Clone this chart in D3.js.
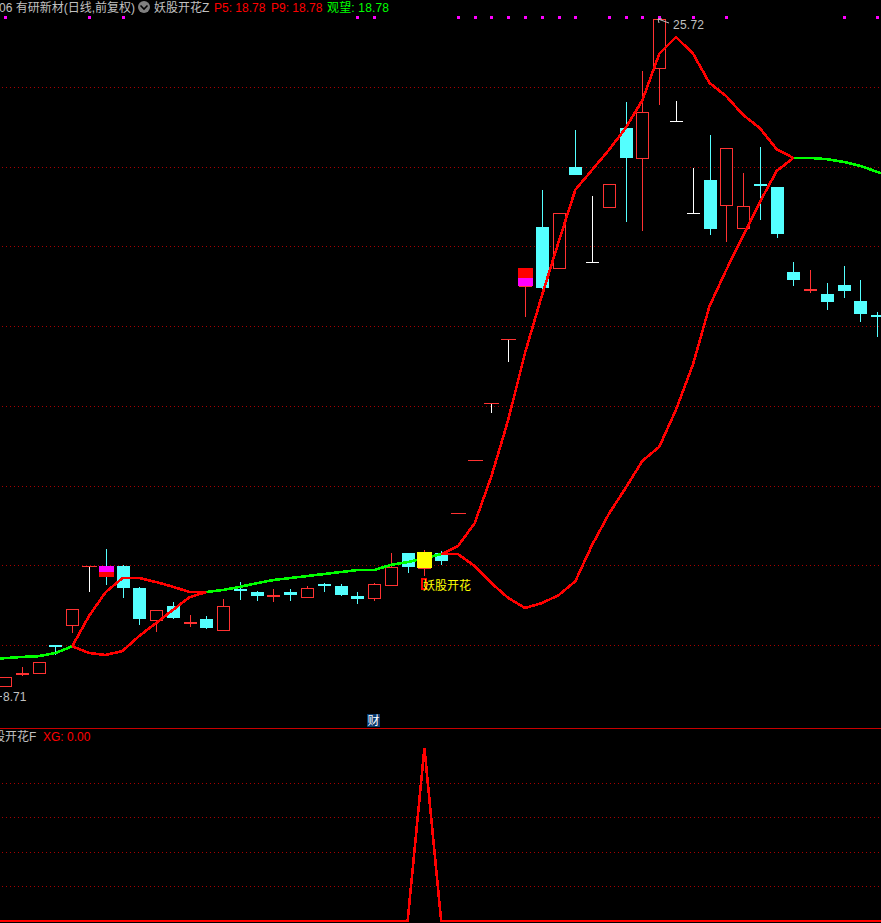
<!DOCTYPE html>
<html><head><meta charset="utf-8">
<style>html,body{margin:0;padding:0;background:#000;overflow:hidden}svg{display:block}text{font-family:"Liberation Sans","Noto Sans CJK SC",sans-serif;font-size:12px}</style>
<script src="https://cdn.jsdelivr.net/npm/d3@7"></script></head><body><svg id="c" width="881" height="923"></svg>
<script>
const opens=[9.00,8.97,9.25,9.30,10.00,10.50,11.98,11.98,11.98,11.43,10.63,10.98,10.53,10.65,10.38,11.41,11.33,11.20,11.33,11.20,11.53,11.48,11.23,11.18,11.50,12.31,11.93,12.31,13.31,14.64,16.07,17.68,19.01,20.49,19.46,21.99,19.61,20.99,22.97,22.22,24.48,23.15,20.84,21.67,21.04,20.46,21.57,21.49,19.36,18.88,18.81,19.03,18.63,18.28];
const closes=[8.80,9.20,9.30,9.57,9.95,10.90,11.98,11.71,11.43,10.65,10.88,10.68,10.58,10.43,10.98,11.36,11.23,11.25,11.25,11.43,11.48,11.25,11.15,11.53,11.96,11.96,12.33,12.11,13.31,14.64,16.07,17.68,19.46,18.96,20.84,21.79,19.61,21.57,22.22,23.37,25.71,23.15,20.84,20.44,22.47,21.01,21.52,20.31,19.16,18.93,18.61,18.88,18.30,18.23];
const highs=[9.05,9.20,9.45,9.57,10.00,10.90,11.98,12.41,12.00,11.46,10.88,11.08,10.76,10.73,11.15,11.58,11.36,11.41,11.41,11.48,11.55,11.53,11.33,11.55,12.31,12.31,12.38,12.36,13.31,14.64,16.07,17.68,19.46,21.42,20.84,22.92,21.26,21.57,23.62,24.40,25.72,23.65,21.97,22.80,22.47,21.84,22.49,21.49,19.61,19.41,19.08,19.51,19.16,18.35];
const lows=[8.71,8.95,9.22,9.27,9.75,10.30,11.33,11.50,11.18,10.50,10.33,10.65,10.46,10.40,10.38,11.13,11.10,11.08,11.10,11.20,11.33,11.23,11.03,11.10,11.48,11.80,11.73,12.01,13.31,14.64,15.82,17.10,18.23,18.81,19.46,21.79,19.61,20.99,20.61,20.39,23.55,23.15,20.84,20.29,20.11,20.46,20.66,20.21,19.01,18.83,18.41,18.71,18.10,17.73];
const bandUpper=[9.65,9.67,9.70,9.72,9.80,9.97,10.73,11.33,11.68,11.68,11.58,11.46,11.33,11.33,11.38,11.46,11.55,11.63,11.68,11.73,11.78,11.83,11.88,11.88,12.01,12.08,12.18,12.28,12.48,13.06,14.24,15.65,17.33,18.76,20.11,21.42,21.92,22.42,22.97,23.67,24.83,25.25,24.85,24.10,23.77,23.30,22.97,22.44,22.22,22.22,22.19,22.12,22.02,21.87,21.74];
const bandLower=[9.65,9.67,9.70,9.72,9.80,9.97,9.80,9.75,9.85,10.23,10.55,10.88,11.20,11.33,11.38,11.46,11.55,11.63,11.68,11.73,11.78,11.83,11.88,11.88,12.01,12.08,12.18,12.28,12.28,11.98,11.55,11.18,10.93,11.05,11.25,11.60,12.51,13.29,13.94,14.62,14.97,15.90,17.02,18.50,19.41,20.26,21.11,21.89,22.22,22.22,22.19,22.12,22.02,21.87,21.74];
const priceTicks=[10,12,14,16,18,20,22,24];
const topMarkers=[1,6,8,22,23,28,29,30,31,32,33,34,35,37,38,39,40,42,44,51,53];
const twoToneBars=[7,32];
const twoToneSplits=[11.84,19.21];
const yellowBar=26;
const xgValues=[0,0,0,0,0,0,0,0,0,0,0,0,0,0,0,0,0,0,0,0,0,0,0,0,0,0,1,0,0,0,0,0,0,0,0,0,0,0,0,0,0,0,0,0,0,0,0,0,0,0,0,0,0,0,0];
const xgTicks=[0.2,0.4,0.6,0.8];

const UP="#ff3232",DOWN="#54ffff",GRID="#a80000",GREY="#c0c0c0";
const svg=d3.select("#c");
const x=d3.scaleLinear().domain([0,53]).range([-11.6,877.2]);
const y=d3.scaleLinear().domain([24,10]).range([87,645]);
const yx=d3.scaleLinear().domain([0,1]).range([921,748]);
const px=i=>Math.round(x(i)), py=v=>Math.round(y(v));

const plot=svg.append("g").attr("shape-rendering","crispEdges");
function grid(vals,sc){plot.append("g").selectAll("line").data(vals).join("line")
 .attr("x1",2).attr("x2",881).attr("y1",d=>Math.round(sc(d))+.5).attr("y2",d=>Math.round(sc(d))+.5)
 .attr("stroke",GRID).attr("stroke-dasharray","1 3");}
grid(priceTicks,y);grid(xgTicks,yx);
plot.append("line").attr("x1",0).attr("x2",881).attr("y1",728.5).attr("y2",728.5).attr("stroke","#c80000");

const vline=(g,X,y1,y2,c)=>{if(y2>y1)g.append("line").attr("x1",X+.5).attr("x2",X+.5).attr("y1",y1).attr("y2",y2).attr("stroke",c);};
const candles=plot.append("g");
opens.forEach((o,i)=>{
 const c=closes[i],X=px(i),top=py(Math.max(o,c)),bot=py(Math.min(o,c)),hi=py(highs[i]),lo=py(lows[i]);
 if(o===c){
  const rising=i>0&&c>closes[i-1];
  vline(candles,X,hi,lo,"#fff");
  const w=rising?7:6;
  candles.append("line").attr("x1",X-w).attr("x2",X+w+1).attr("y1",top+.5).attr("y2",top+.5).attr("stroke",rising?UP:"#fff");
  return;
 }
 const col=c>o?UP:DOWN;
 vline(candles,X,hi,top,col);vline(candles,X,bot,lo,col);
 if(c>o&&bot-top>4){
  candles.append("rect").attr("x",X-6+.5).attr("y",top+.5).attr("width",12).attr("height",bot-top).attr("fill","#000").attr("stroke",col);
 }else{
  candles.append("rect").attr("x",X-6).attr("y",top).attr("width",13).attr("height",Math.max(bot-top,2)).attr("fill",col);
 }
});

const bandLine=d3.line().x(d=>x(d.i)).y(d=>y(d.v));
const same=i=>bandUpper[i]===bandLower[i];
function segs(a,test){const out=[];for(let i=0;i<a.length-1;i++){if(test(i)){const l=out[out.length-1];if(l&&l[l.length-1].i===i)l.push({i:i+1,v:a[i+1]});else out.push([{i,v:a[i]},{i:i+1,v:a[i+1]}]);}}return out;}
const isGreen=i=>same(i)&&same(i+1);
const lines=plot.append("g").attr("fill","none").attr("stroke-width",2.6).attr("stroke-linejoin","round");
segs(bandUpper,isGreen).forEach(s=>lines.append("path").attr("d",bandLine(s)).attr("stroke","#00ff00"));
[bandUpper,bandLower].forEach(a=>segs(a,i=>!isGreen(i)).forEach(s=>lines.append("path").attr("d",bandLine(s)).attr("stroke","#ff0000")));

twoToneBars.forEach((b,k)=>{
 const X=px(b),top=py(Math.max(opens[b],closes[b])),bot=py(Math.min(opens[b],closes[b])),mid=py(twoToneSplits[k]);
 const down=closes[b]<opens[b];
 plot.append("rect").attr("x",X-7).attr("y",top).attr("width",15).attr("height",mid-top).attr("fill",down?"#ff00ff":"#ff0000");
 plot.append("rect").attr("x",X-7).attr("y",mid).attr("width",15).attr("height",bot-mid).attr("fill",down?"#ff0000":"#ff00ff");
});
plot.append("rect").attr("x",px(yellowBar)-7).attr("y",py(closes[yellowBar]))
 .attr("width",15).attr("height",py(opens[yellowBar])-py(closes[yellowBar])).attr("fill","#ffff00");

plot.append("g").selectAll("rect").data(topMarkers).join("rect")
 .attr("x",d=>px(d)-1).attr("y",16).attr("width",3).attr("height",3).attr("fill","#ff00ff");

plot.append("path").attr("fill","none").attr("stroke","#ff0000").attr("stroke-width",2.6)
 .attr("d",d3.line().x((d,i)=>x(i)).y(d=>yx(d))(xgValues));

const t=(X,Y,s,c,a)=>{const e=svg.append("text").attr("x",X).attr("y",Y).attr("fill",c).text(s);if(a)e.attr("text-anchor",a);return e;};
t(-1,12,"06 有研新材(日线,前复权)",GREY);
svg.append("circle").attr("cx",144).attr("cy",7).attr("r",6).attr("fill","#808080");
svg.append("path").attr("d","M140.5 5.5L144 9L147.5 5.5").attr("fill","none").attr("stroke","#000").attr("stroke-width",1.6);
t(154,12,"妖股开花Z",GREY);
t(214,12,"P5: 18.78","#ff0000");
t(271,12,"P9: 18.78","#ff0000");
t(327,12,"观望: 18.78","#00ff00").attr("textLength",62);

const hiY=py(d3.max(highs)),hiX=px(highs.indexOf(d3.max(highs)));
svg.append("path").attr("d",`M${hiX-1} ${hiY+1}L${hiX+10} ${hiY+5}M${hiX-1} ${hiY+1}l4 0M${hiX-1} ${hiY+1}l1 4`).attr("stroke",GREY).attr("fill","none");
t(hiX+14,hiY+11,"25.72",GREY).attr("textLength",31);
svg.append("line").attr("x1",0).attr("x2",2).attr("y1",696.5).attr("y2",696.5).attr("stroke",GREY);
t(3,701,"8.71",GREY);

svg.append("rect").attr("x",422).attr("y",579).attr("width",4).attr("height",10).attr("fill","none").attr("stroke","#ff0000").attr("stroke-width",2).attr("shape-rendering","crispEdges");
t(423,590,"妖股开花","#ffff00");

svg.append("rect").attr("x",367).attr("y",714).attr("width",13).attr("height",13).attr("fill","#0a3a6e");
t(373.5,725,"财","#fff","middle");

t(-19,741,"妖股开花F",GREY);
t(43,741,"XG: 0.00","#ff0000");
</script></body></html>
